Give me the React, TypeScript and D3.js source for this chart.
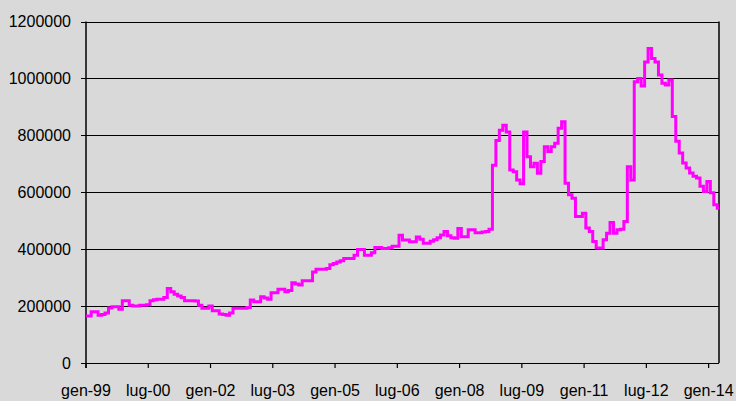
import React from "react";
import * as d3 from "d3";

// monthly values (thousands), starting Jan 1999
const startYear = 1999;
const values: number[] = [
  165, 165, 180, 180, 168, 170, 176, 193, 198, 198, 189, 219,
  219, 203, 200, 200, 203, 203, 205, 219, 222, 224, 224, 230,
  262, 250, 242, 235, 230, 219, 219, 219, 218, 203, 192, 192,
  200, 184, 184, 172, 170, 168, 176, 192, 192, 192, 192, 195,
  221, 215, 215, 233, 228, 224, 247, 247, 259, 259, 250, 255,
  282, 278, 274, 289, 289, 289, 320, 329, 329, 329, 332, 345,
  350, 355, 359, 367, 367, 367, 379, 399, 399, 379, 379, 387,
  406, 406, 402, 402, 405, 410, 410, 449, 432, 432, 426, 426,
  443, 435, 421, 421, 428, 433, 440, 450, 462, 447, 440, 438,
  473, 444, 444, 468, 468, 458, 458, 460, 462, 470, 695, 782,
  818, 835, 812, 678, 672, 643, 630, 812, 725, 690, 702, 667,
  708, 760, 743, 760, 772, 825, 848, 632, 591, 579, 515, 515,
  526, 474, 462, 427, 404, 404, 433, 456, 494, 456, 468, 470,
  497, 690, 643, 988, 1000, 973, 1058, 1105, 1070, 1058, 1012, 983,
  977, 994, 866, 779, 738, 703, 685, 668, 656, 650, 621, 603,
  638, 598, 556, 544,
];
const yTicks = [0, 200000, 400000, 600000, 800000, 1000000, 1200000];
const xTickMonths = [0, 18, 36, 54, 72, 90, 108, 126, 144, 162, 180];
const monthNames = ["gen", "feb", "mar", "apr", "mag", "giu", "lug", "ago", "set", "ott", "nov", "dic"];

const W = 736;
const H = 401;
const left = 86;
const right = 719;
const top = 21.5;
const bottom = 363;

export default function App() {
  const x = d3.scaleLinear().domain([0, values.length - 1]).range([left, right]);
  const y = d3.scaleLinear().domain([0, 1200000]).range([bottom, top]);
  const line = d3
    .line<number>()
    .x((_, i) => x(i))
    .y((d) => y(d * 1000))
    .curve(d3.curveStep);
  const label = (m: number) => {
    const yr = startYear + Math.floor(m / 12);
    return `${monthNames[m % 12]}-${String(yr % 100).padStart(2, "0")}`;
  };
  return (
    <svg
      width={W}
      height={H}
      style={{ position: "absolute", left: 0, top: 0, background: "#d9d9d9" }}
      fontFamily="'Liberation Sans', Arial, sans-serif"
    >
      <rect x={0} y={0} width={W} height={H} fill="#d9d9d9" />
      {yTicks.map((t) => (
        <g key={t}>
          <line x1={left - 5} x2={right} y1={Math.round(y(t)) + 0.5} y2={Math.round(y(t)) + 0.5} stroke="#000" strokeWidth={1.2} />
          <text x={71} y={y(t)} dy="0.36em" textAnchor="end" fontSize={16} fill="#000">
            {t}
          </text>
        </g>
      ))}
      <line x1={left} x2={left} y1={top} y2={bottom + 5} stroke="#000" strokeWidth={1.5} />
      <line x1={right} x2={right} y1={top} y2={bottom} stroke="#000" strokeWidth={1.5} />
      {xTickMonths.map((m) => (
        <g key={m}>
          <line x1={x(m)} x2={x(m)} y1={bottom} y2={bottom + 5} stroke="#000" strokeWidth={1.2} />
          <text x={x(m)} y={396} textAnchor="middle" fontSize={16} fill="#000">
            {label(m)}
          </text>
        </g>
      ))}
      <path d={line(values) || ""} fill="none" stroke="#ff00ff" strokeWidth={3} strokeLinejoin="miter" />
    </svg>
  );
}
